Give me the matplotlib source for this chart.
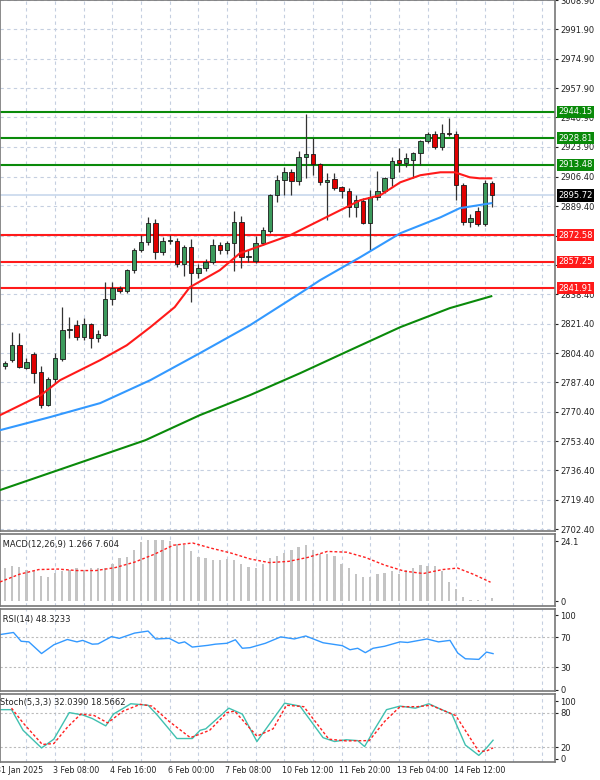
import numpy as np
import matplotlib
matplotlib.use("Agg")
import matplotlib.pyplot as plt
import matplotlib.transforms as mtrans

opens = [2797,2800.3,2809,2796,2803.7,2793.3,2774.2,2789.3,2801,2817.6,2820.5,2813.6,2821.1,2813,2814.7,2835.6,2842,2840.5,2852.4,2864,
 2868.6,2879.6,2862.8,2869.2,2869.2,2855.8,2865.7,2850.6,2853.5,2857,2866.8,2864,2868,2880.2,2859.9,2857.6,2868,2875,2895.8,2904.5,
 2909.1,2903.9,2917.8,2919.5,2913.7,2903.3,2905,2900.4,2898,2888.8,2892.3,2879.6,2894.6,2898,2905.6,2916.1,2914.3,2916.5,2920.1,2927,
 2931.1,2923.6,2931.5,2931.1,2901.6,2880.2,2886.5,2879,2902.7]
highs = [2799.5,2816.5,2815.9,2801.4,2804.9,2796.8,2790.4,2804.3,2830.9,2825.2,2823.4,2824.6,2822,2817.6,2845.4,2845.4,2843,2853,2865,2872.6,
 2883.1,2882,2871.5,2872.6,2871,2867,2870.3,2856,2859,2870.3,2868.5,2869.5,2886.5,2884,2864,2872,2877.3,2896.5,2907.4,2912,
 2911,2921.3,2942.7,2928.8,2914.5,2908.5,2908.5,2901,2900,2895.8,2894,2898.7,2909.7,2906.5,2917.8,2923,2920,2921,2928,2932.5,
 2932.8,2936.9,2940.4,2933,2903,2884.8,2888.8,2904.5,2904]
lows = [2795,2799,2795.6,2795,2786.9,2772.5,2774,2787,2800,2813,2811.8,2812,2807.2,2810.6,2814,2832,2839,2839,2851,2863,
 2867,2858.7,2861,2867.4,2854,2848.9,2833.8,2847.7,2852,2856,2862,2862,2852,2853.5,2857,2856.5,2867,2874,2891.7,2895.8,
 2895.8,2902,2905.6,2907.4,2901.6,2881.3,2898.7,2894,2883,2883,2879,2864,2893,2897,2901,2909,2912,2906,2913.2,2926,
 2922.5,2922,2930,2892.9,2878.4,2877.3,2878,2878,2888.8]
closes = [2798.5,2808.9,2796.2,2799,2792.7,2774.2,2789.3,2801.4,2817.6,2818.3,2813.6,2821.1,2813,2815.3,2835.6,2842,2840.2,2852.4,2864,2868.6,
 2879.6,2862.8,2869.2,2869.5,2855.8,2865.7,2850.6,2853.5,2857,2866.8,2864,2868,2880.2,2859.9,2860.5,2868,2875.5,2895.8,2904.5,2909.1,
 2903.9,2917.8,2919.5,2913.7,2903.3,2904.5,2899.8,2898,2888.8,2892.9,2879.6,2894.6,2898.1,2905.6,2915.5,2914.3,2917.2,2920.1,2927,2931.1,
 2923.6,2931.7,2931.1,2901.6,2880.2,2882.5,2879,2902.7,2895.72]

ma_red_idx = [-0.7,5,7.7,13.3,17,20.3,23.7,25.8,30,32.8,39.8,42.6,46.8,49.6,52.4,55.2,58,60.8,62.8,64.9,66.3,67.9]
ma_red_val = [2768.4,2780.0,2788.7,2800.3,2808.9,2819.4,2831.0,2842.5,2852.4,2862.2,2872.6,2878.4,2887.1,2892.9,2895.8,2903.3,2907.4,2909.1,2909.1,2906.2,2905.6,2905.6]
ma_blue_idx = [-0.7,6.3,13.3,20.3,27.2,34.2,41.2,44,49.6,55.2,60.8,63.5,67.9]
ma_blue_val = [2759.7,2767.3,2775.4,2788.7,2804.3,2820.5,2839.0,2846.6,2859.9,2873.8,2883.0,2888.3,2891.2]
ma_green_idx = [-0.7,19.6,27.2,34.2,41.2,48.2,55.2,62.1,67.9]
ma_green_val = [2725,2753.9,2768.4,2780,2792.7,2806.1,2819.4,2830.4,2837.3]

levels_green = [2944.15, 2928.81, 2913.48]
levels_red = [2872.58, 2857.25, 2841.91]
current_price = 2895.72
price_ticks = [3008.90,2991.90,2974.90,2957.90,2940.90,2923.90,2906.40,2889.40,2872.40,2855.40,2838.40,2821.40,
               2804.40,2787.40,2770.40,2753.40,2736.40,2719.40,2702.40]

macd_hist = [13.3,14.3,13.9,12.7,12.1,10.2,9.6,11.4,12.1,12.7,
 13.3,12.7,13.3,13.5,13.5,15.1,17.2,17.6,20.7,23.7,
 24.6,24.6,24.6,24.3,23.1,22.5,20.0,17.6,17.2,16.4,
 16.7,17.0,16.4,15.1,13.9,13.3,15.1,17.2,18.2,19.4,
 20.7,21.9,22.5,20.7,18.8,18.8,18.2,15.1,13.3,10.8,
 9.6,9.6,10.8,11.4,12.1,10.8,12.7,13.3,14.5,14.3,
 14.3,12.1,7.7,4.7,1.8,0.4,0.3,0.2,1.27]
macd_sig_idx = [-0.7,2.0,4.7,7.4,10.0,12.7,15.4,18.1,20.8,23.5,26.2,28.8,31.5,34.2,36.9,39.6,42.3,45.0,47.7,50.3,53.0,55.7,58.4,61.1,63.2,65.4,67.8]
macd_sig_val = [7.7,10.8,12.7,12.9,12.3,12.3,13.5,15.7,18.8,22.5,23.4,21.3,19.4,17.0,15.5,16.0,17.6,20.0,19.7,17.6,14.5,12.1,11.1,12.7,13.3,10.8,7.6]

rsi_z = [0,35,55,75,108,140,175,200,215,240,255,290,310,350,385,405,440,465,480,500,540,560,590,612,630,650,690,730,765,795,840,890,910,930,950,970,1000,1040,1060,1110,1140,1170,1190,1210,1245,1265,1282]
rsi_val = [73.9,76.7,64.9,64.1,48.4,60.2,67.3,64.1,66.1,61.0,61.4,71.2,68.8,75.9,78.6,68.0,68.8,62.2,64.1,57.1,59.4,61.0,62.2,66.9,55.5,56.3,62.2,70.8,68.0,72.0,62.9,59.0,53.5,55.5,49.6,55.5,58.2,64.1,63.3,68.0,64.1,66.1,49.2,41.4,40.6,50.4,48.3]

stk_z = [0,30,60,108,140,180,215,240,275,295,340,385,410,460,500,520,535,595,630,668,700,740,780,840,870,900,930,948,970,1005,1040,1080,1115,1140,1175,1210,1245,1265,1282]
stk_val = [85.1,85.1,49.2,18.5,33.8,80,75.9,69.7,56.9,77.4,95.4,92.8,74.9,34.9,34.9,49.2,51.8,87.7,77.4,29.7,59.5,96.4,91.3,36.4,29.7,32.8,31.3,21.0,46.7,85.1,91.3,87.7,95.4,87.7,77.4,23.6,5.6,18.5,32.0]
sig_z = [30,60,110,140,175,210,245,280,320,365,395,440,495,545,590,610,668,710,745,790,855,900,960,1000,1040,1085,1120,1185,1245,1265,1282]
sig_val = [87.7,62.1,24.6,26.2,54.4,77.4,74.9,62.1,82.6,94.4,91.3,64.6,36.4,49.2,80,82.6,39,51.8,92.8,90.3,33.8,30.8,31.3,64.6,90.3,90.3,92.8,74.9,12.3,13.3,18.57]

date_idx = [-1,7,15,23,31,39,47,55,63]
date_labels = ["31 Jan 2025","3 Feb 08:00","4 Feb 16:00","6 Feb 00:00","7 Feb 08:00",
               "10 Feb 12:00","11 Feb 20:00","13 Feb 04:00","14 Feb 12:00"]

def z2i(z):
    return [v/18.62 - 0.70 for v in z]

plt.rcParams['font.family'] = 'DejaVu Sans'
fig = plt.figure(figsize=(6, 7.8), dpi=100)
L, R = 0.0, 0.925
ax = fig.add_axes([L, 0.319, R, 0.681])
a1 = fig.add_axes([L, 0.223, R, 0.092])
a2 = fig.add_axes([L, 0.114, R, 0.105])
a3 = fig.add_axes([L, 0.023, R, 0.087])
XL = (-0.7, 76.8)
gridc = '#c5cfe0'
for a in (ax, a1, a2, a3):
    a.set_xlim(*XL)
    a.yaxis.tick_right()
    a.tick_params(axis='y', labelsize=6.0, length=2, pad=2, colors='#222222')
    a.tick_params(axis='x', bottom=False, labelbottom=False)
    for s in a.spines.values():
        s.set_color('#777777'); s.set_linewidth(1.2)
    for gx in np.arange(3, 77, 4):
        a.axvline(gx, color=gridc, lw=0.8, ls=(0, (3, 3)), zorder=0)

ax.set_ylim(2701.2, 3008.7)
ax.set_yticks(price_ticks)
ax.set_yticklabels([f"{t:.2f}" for t in price_ticks])
for t in price_ticks:
    ax.axhline(t, color=gridc, lw=0.8, ls=(0, (3, 3)), zorder=0)
ax.axhline(current_price, color='#c8d8ec', lw=1.2, zorder=1)
x = np.arange(len(opens))
o = np.array(opens); c = np.array(closes); h = np.array(highs); l = np.array(lows)
up = c >= o
ax.vlines(x, l, h, color='#333333', lw=0.9, zorder=3)
body = np.maximum(np.abs(c - o), 0.5)
ax.bar(x[up], body[up], bottom=np.minimum(o, c)[up], width=0.62, color='#3c9a5c', edgecolor='#1a1a1a', lw=0.6, zorder=4)
ax.bar(x[~up], body[~up], bottom=np.minimum(o, c)[~up], width=0.62, color='#e00000', edgecolor='#1a1a1a', lw=0.6, zorder=4)
ax.plot(ma_red_idx, ma_red_val, color='#ff1a1a', lw=1.5, zorder=5)
ax.plot(ma_blue_idx, ma_blue_val, color='#3399ff', lw=1.5, zorder=5)
ax.plot(ma_green_idx, ma_green_val, color='#0a8a0a', lw=1.5, zorder=5)
tr = mtrans.blended_transform_factory(ax.transAxes, ax.transData)
for lv in levels_green:
    ax.axhline(lv, color='#0a8a0a', lw=1.5, zorder=2)
    ax.text(1.006, lv, f"{lv:.2f}", transform=tr, fontsize=6.0, color='white', va='center', ha='left',
            bbox=dict(boxstyle='square,pad=0.2', fc='#0a8a0a', ec='none'), zorder=10, clip_on=False)
for lv in levels_red:
    ax.axhline(lv, color='#ff1a1a', lw=1.5, zorder=2)
    ax.text(1.006, lv, f"{lv:.2f}", transform=tr, fontsize=6.0, color='white', va='center', ha='left',
            bbox=dict(boxstyle='square,pad=0.2', fc='#ff1a1a', ec='none'), zorder=10, clip_on=False)
ax.text(1.006, current_price, f"{current_price:.2f}", transform=tr, fontsize=6.0, color='white', va='center', ha='left',
        bbox=dict(boxstyle='square,pad=0.2', fc='#000000', ec='none'), zorder=10, clip_on=False)

a1.set_ylim(-2.0, 26.9)
a1.set_yticks([0, 24.1]); a1.set_yticklabels(["0", "24.1"])
a1.bar(x, macd_hist, width=0.32, color='#c4c4c4', zorder=2)
a1.plot(macd_sig_idx, macd_sig_val, color='#ff2020', lw=1.0, ls=(0, (2, 1.5)), zorder=3)
a1.text(0.0, 0.92, " MACD(12,26,9) 1.266 7.604", transform=a1.transAxes, fontsize=6.0, va='top', color='#222222')

a2.set_ylim(-2, 108)
a2.set_yticks([0, 30, 70, 100]); a2.set_yticklabels(["0", "30", "70", "100"])
for t in (30, 70):
    a2.axhline(t, color='#bbbbbb', lw=0.8, ls=(0, (2, 2)))
a2.plot(z2i(rsi_z), rsi_val, color='#3399ff', lw=1.0)
a2.text(0.0, 0.93, " RSI(14) 48.3233", transform=a2.transAxes, fontsize=6.0, va='top', color='#222222')

a3.set_ylim(-6, 112)
a3.set_yticks([0, 20, 80, 100]); a3.set_yticklabels(["0", "20", "80", "100"])
for t in (20, 80):
    a3.axhline(t, color='#bbbbbb', lw=0.8, ls=(0, (2, 2)))
a3.plot(z2i(stk_z), stk_val, color='#40c0b0', lw=1.0)
a3.plot(z2i(sig_z), sig_val, color='#ff2020', lw=1.0, ls=(0, (2, 1.5)))
a3.text(0.0, 0.95, "Stoch(5,3,3) 32.0390 18.5662", transform=a3.transAxes, fontsize=6.0, va='top', color='#222222')

trx = mtrans.blended_transform_factory(a3.transData, fig.transFigure)
for di, lab in zip(date_idx, date_labels):
    fig.text(di - 0.3, 0.012, lab, transform=trx, fontsize=5.7, ha='left', va='center', color='#222222')

fig.savefig("out.png", dpi=100, facecolor='white')
